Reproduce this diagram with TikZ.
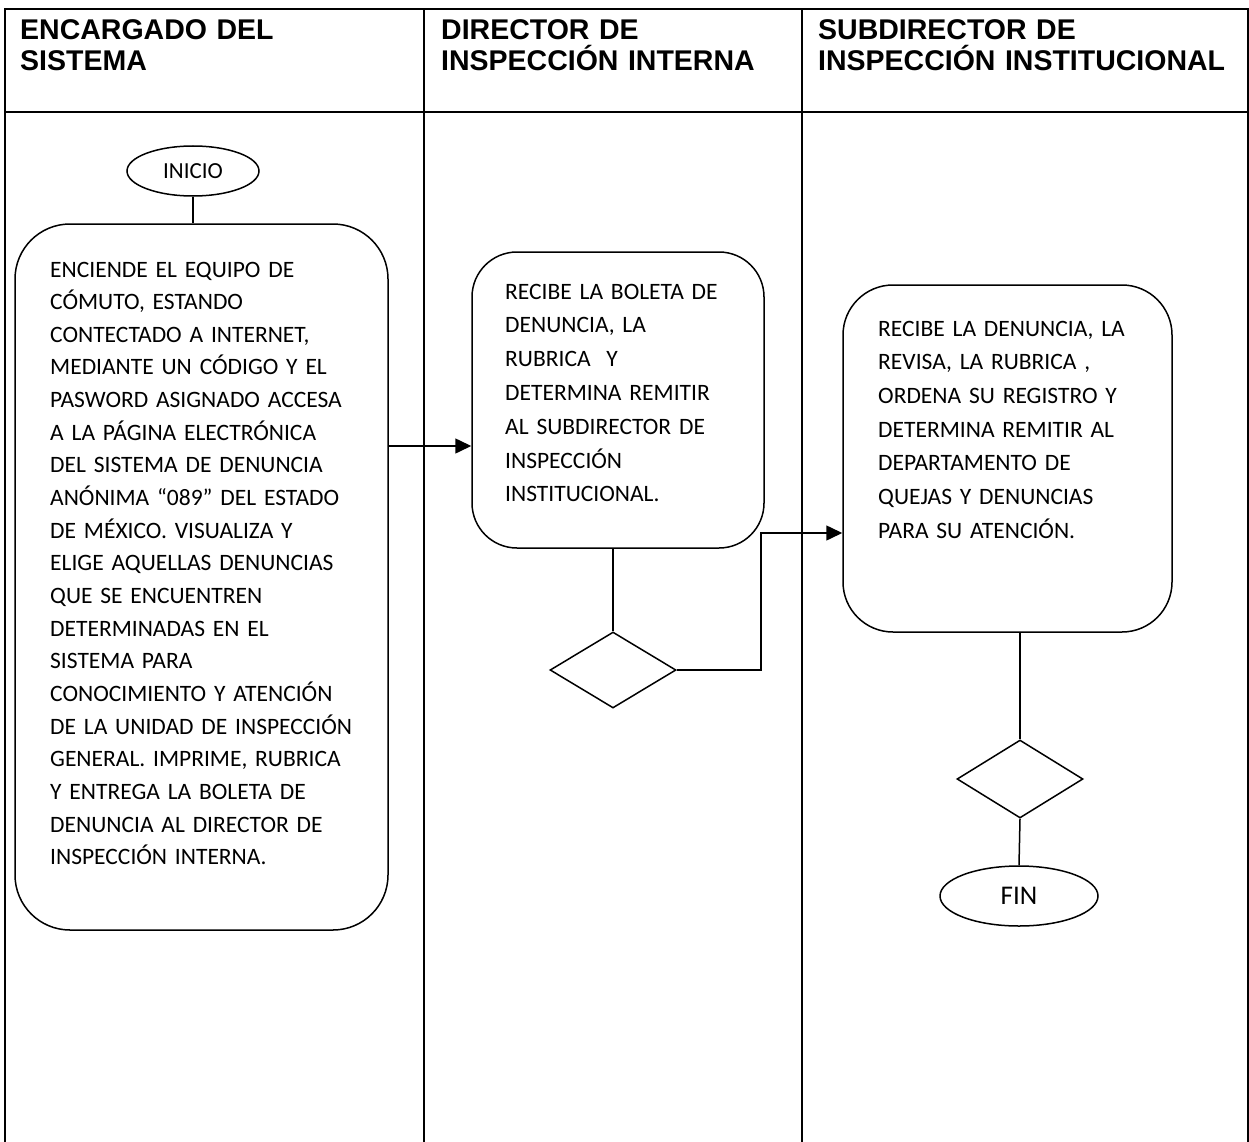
\documentclass[tikz,border=0pt]{standalone}
\usepackage{fontspec}
\setmainfont{Carlito}
\newfontfamily\headfont{Liberation Sans}
\usetikzlibrary{shapes.geometric,arrows.meta,calc}
\tikzset{
  lane/.style={line width=2pt},
  procbox/.style={draw, line width=1.5pt, rectangle, inner sep=0pt},
  term/.style={draw, line width=1.5pt, ellipse, inner sep=0pt},
  decis/.style={draw, line width=1.5pt, diamond, inner sep=0pt},
  conn/.style={line width=1.5pt},
  arr/.style={line width=1.5pt, -{Triangle[length=16pt,width=15pt]}},
  headtxt/.style={anchor=base west, align=left, text width=420pt, inner sep=0pt,
    font={\headfont\bfseries\fontsize{28.5pt}{31pt}\selectfont}},
  bodytxt/.style={anchor=base west, align=left, text width=420pt, inner sep=0pt}
}
\begin{document}
\begin{tikzpicture}[x=1pt,y=-1pt]
\useasboundingbox (0,0) rectangle (1249,1142);
\fill[white] (0,0) rectangle (1249,1142);
% table
\draw[lane] (5,1142) -- (5,9) -- (1248,9) -- (1248,1142);
\draw[lane] (5,112) -- (1248,112);
\draw[lane] (424,9) -- (424,1142);
\draw[lane] (802,9) -- (802,1142);
% headers
\node[headtxt] (h1) at (20,40) {ENCARGADO DEL\\SISTEMA};
\node[headtxt] (h2) at (441,40) {DIRECTOR DE\\INSPECCIÓN INTERNA};
\node[headtxt] (h3) at (818,40) {SUBDIRECTOR DE\\INSPECCIÓN INSTITUCIONAL};
% shapes
\node[term, minimum width=132pt, minimum height=50pt, font={\fontsize{23pt}{26pt}\selectfont}] (inicio) at (193,171) {INICIO};
\node[procbox, rounded corners=55pt, minimum width=373pt, minimum height=706pt] (box1) at (201.5,577) {};
\node[bodytxt, font={\fontsize{23.5pt}{32.65pt}\selectfont}] (t1) at (50,277) {ENCIENDE EL EQUIPO DE\\
CÓMUTO, ESTANDO\\
CONTECTADO A INTERNET,\\
MEDIANTE UN CÓDIGO Y EL\\
PASWORD ASIGNADO ACCESA\\
A LA PÁGINA ELECTRÓNICA\\
DEL SISTEMA DE DENUNCIA\\
ANÓNIMA “089” DEL ESTADO\\
DE MÉXICO. VISUALIZA Y\\
ELIGE AQUELLAS DENUNCIAS\\
QUE SE ENCUENTREN\\
DETERMINADAS EN EL\\
SISTEMA PARA\\
CONOCIMIENTO Y ATENCIÓN\\
DE LA UNIDAD DE INSPECCIÓN\\
GENERAL. IMPRIME, RUBRICA\\
Y ENTREGA LA BOLETA DE\\
DENUNCIA AL DIRECTOR DE\\
INSPECCIÓN INTERNA.};
\node[procbox, rounded corners=45pt, minimum width=292pt, minimum height=296pt] (box2) at (618,400) {};
\node[bodytxt, font={\fontsize{23.5pt}{33.8pt}\selectfont}] (t2) at (505,299) {RECIBE LA BOLETA DE\\
DENUNCIA, LA\\
RUBRICA\ \ Y\\
DETERMINA REMITIR\\
AL SUBDIRECTOR DE\\
INSPECCIÓN\\
INSTITUCIONAL.};
\node[decis, minimum width=126pt, minimum height=76pt, aspect=1.66] (d1) at (613,670) {};
\node[procbox, rounded corners=50pt, minimum width=329pt, minimum height=347pt] (box3) at (1007.5,458.5) {};
\node[bodytxt, font={\fontsize{23.5pt}{33.7pt}\selectfont}] (t3) at (878,336) {RECIBE LA DENUNCIA, LA\\
REVISA, LA RUBRICA ,\\
ORDENA SU REGISTRO Y\\
DETERMINA REMITIR AL\\
DEPARTAMENTO DE\\
QUEJAS Y DENUNCIAS\\
PARA SU ATENCIÓN.};
\node[decis, minimum width=126pt, minimum height=78pt, aspect=1.62] (d2) at (1020,779) {};
\node[term, minimum width=158pt, minimum height=60pt, font={\fontsize{27pt}{30pt}\selectfont}] (fin) at (1019,896) {FIN};
% connectors
\coordinate (a1) at (430,446);
\coordinate (elbow) at (761,533);
\draw[conn] (inicio.south) -- (inicio.south |- box1.north);
\draw[arr] (a1 -| box1.east) -- (a1 -| box2.west);
\draw[conn] (d1.north |- box2.south) -- (d1.north);
\draw[arr] (d1.east) -- (elbow |- d1.east) -- (elbow) -- (elbow -| box3.west);
\draw[conn] (d2.north |- box3.south) -- (d2.north);
\draw[conn] (d2.south) -- (fin.north);
\end{tikzpicture}
\end{document}
